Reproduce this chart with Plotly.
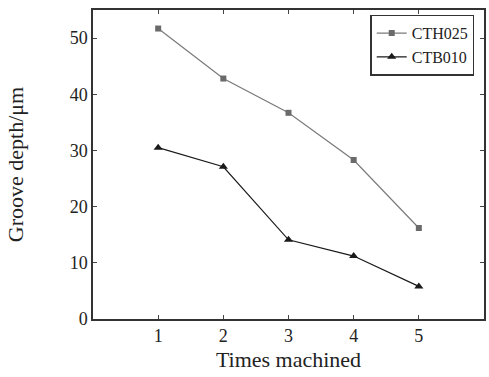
import plotly.graph_objects as go

times = [1, 2, 3, 4, 5]
cth025 = [51.7, 42.8, 36.7, 28.3, 16.2]
ctb010 = [30.5, 27.1, 14.1, 11.2, 5.8]
xticks = [1, 2, 3, 4, 5]
yticks = [0, 10, 20, 30, 40, 50]

fig = go.Figure()
fig.add_trace(go.Scatter(x=times, y=cth025, name="CTH025", mode="lines+markers",
                         line=dict(color="#7a7a7a", width=1.2),
                         marker=dict(symbol="square", size=6, color="#6a6a6a")))
fig.add_trace(go.Scatter(x=times, y=ctb010, name="CTB010", mode="lines+markers",
                         line=dict(color="#1a1a1a", width=1.2),
                         marker=dict(symbol="triangle-up", size=8, color="#1a1a1a")))

fig.update_layout(
    width=489, height=377,
    margin=dict(l=93, r=3, t=10, b=58),
    paper_bgcolor="white", plot_bgcolor="white",
    font=dict(family="Liberation Serif, Times New Roman, serif", size=18, color="#222"),
    showlegend=True,
    legend=dict(x=0.975, y=0.985, xanchor="right", yanchor="top",
                bordercolor="#333", borderwidth=1.5, bgcolor="white",
                font=dict(size=16), tracegroupgap=0, itemwidth=30),
    xaxis=dict(range=[0, 6], tickvals=xticks, ticks="inside", ticklen=4,
               showline=True, linecolor="#333", linewidth=1.5, mirror="ticks",
               showgrid=False, zeroline=False, tickfont=dict(size=18),
               title=dict(text="Times machined", standoff=6)),
    yaxis=dict(range=[0, 55], tickvals=yticks, ticks="inside", ticklen=4,
               showline=True, linecolor="#333", linewidth=1.5, mirror="ticks",
               showgrid=False, zeroline=False, tickfont=dict(size=18),
               title=dict(text="Groove depth/μm", standoff=40)),
)
fig.write_html("out.html")
